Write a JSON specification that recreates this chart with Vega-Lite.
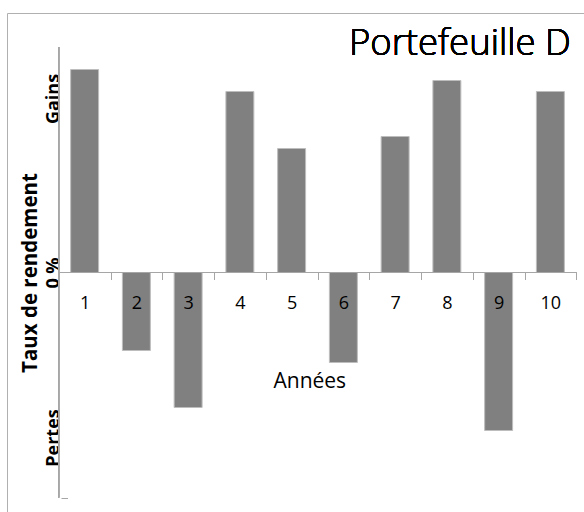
{
  "$schema": "https://vega.github.io/schema/vega-lite/v6.json",
  "autosize": "none",
  "width": 621,
  "height": 540,
  "padding": {"left": 7, "top": 13, "right": 0, "bottom": 0},
  "background": "white",
  "config": {"view": {"stroke": "#b0b0b0", "strokeWidth": 1}, "font": "Open Sans"},
  "data": {"values": [
    {"year": 1, "rendement": 203},
    {"year": 2, "rendement": -78},
    {"year": 3, "rendement": -135},
    {"year": 4, "rendement": 181},
    {"year": 5, "rendement": 124},
    {"year": 6, "rendement": -90},
    {"year": 7, "rendement": 136},
    {"year": 8, "rendement": 192},
    {"year": 9, "rendement": -158},
    {"year": 10, "rendement": 181}
  ]},
  "layer": [
    {
      "mark": {"type": "bar", "color": "#808080", "stroke": "#bdbdbd", "strokeWidth": 1, "width": {"band": 0.54}},
      "encoding": {
        "x": {
          "field": "year", "type": "ordinal",
          "scale": {"paddingInner": 0, "paddingOuter": 1.21},
          "axis": {
            "orient": "bottom", "offset": -280.5, "domain": false, "grid": false, "zindex": 1,
            "tickBand": "extent", "tickSize": 7, "tickColor": "#a6a6a6",
            "labelAngle": 0, "labelFont": "Open Sans", "labelFontSize": 18, "labelColor": "#000000",
            "labelBaseline": "alphabetic", "labelPadding": 28.5,
            "title": "Années", "titleFont": "Open Sans", "titleFontSize": 21, "titleFontWeight": "normal",
            "titleColor": "#000000", "titleX": 302.3, "titleY": 114.8, "titleAlign": "center", "titleBaseline": "alphabetic"
          }
        },
        "y": {
          "field": "rendement", "type": "quantitative",
          "scale": {"domain": [-280.5, 259.5], "nice": false, "zero": false},
          "axis": {
            "orient": "left", "offset": -60.5, "domain": false, "grid": false,
            "values": [174, 0, -165, -225],
            "labelExpr": "datum.value == 174 ? 'Gains' : datum.value == 0 ? '0 %' : datum.value == -165 ? 'Pertes' : ''",
            "labelAngle": -90, "labelAlign": "center", "labelBaseline": "alphabetic", "labelPadding": 3,
            "labelFont": "Open Sans", "labelFontSize": 18, "labelFontWeight": "bold", "labelColor": "#000000",
            "labelFlush": false, "labelOverlap": false,
            "tickSize": 6.5, "tickColor": "#a6a6a6",
            "tickOpacity": {"condition": {"test": "datum.value == -225", "value": 1}, "value": 0},
            "title": "Taux de rendement", "titleFont": "Open Sans", "titleFontSize": 20.5, "titleFontWeight": "bold",
            "titleColor": "#000000", "titleAngle": -90, "titleAlign": "center", "titleBaseline": "alphabetic",
            "titleX": -31, "titleY": 259.5
          }
        }
      }
    },
    {
      "mark": {"type": "rule", "color": "#a6a6a6", "strokeWidth": 1},
      "encoding": {
        "x": {"datum": 1, "type": "ordinal", "bandPosition": 0},
        "y": {"datum": 225.5, "type": "quantitative"},
        "y2": {"datum": -225}
      }
    },
    {
      "mark": {"type": "rule", "color": "#a6a6a6", "strokeWidth": 1},
      "encoding": {
        "x": {"datum": 1, "type": "ordinal", "bandPosition": 0},
        "x2": {"datum": 10, "bandPosition": 1},
        "y": {"datum": 0, "type": "quantitative"}
      }
    },
    {
      "mark": {"type": "text", "text": "Portefeuille D", "font": "Open Sans", "fontSize": 36.5, "fontWeight": 300, "color": "#000000", "align": "right", "baseline": "alphabetic", "dx": -5.5},
      "encoding": {
        "x": {"datum": 10, "type": "ordinal", "bandPosition": 1},
        "y": {"datum": 217.5, "type": "quantitative"}
      }
    }
  ]
}
